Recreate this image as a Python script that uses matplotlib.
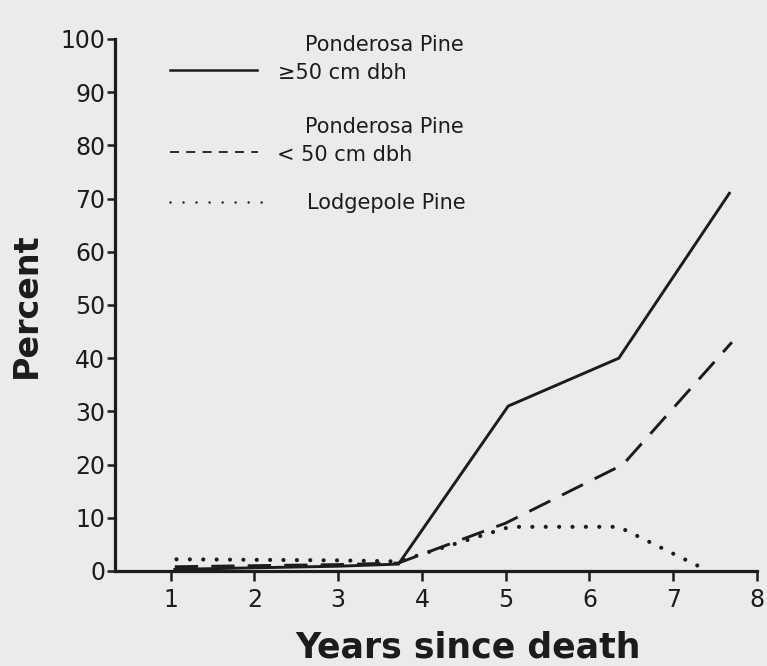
import matplotlib
matplotlib.use("Agg")
import matplotlib.pyplot as plt
from matplotlib.lines import Line2D

# ---- data ----
years_pp_large = [1.05, 2.0, 3.0, 3.72, 5.03, 6.35, 7.67]
pct_pp_large = [0.3, 0.6, 0.9, 1.3, 31.0, 40.0, 71.0]

years_pp_small = [1.05, 2.0, 3.0, 3.72, 5.0, 6.4, 7.7]
pct_pp_small = [0.8, 1.0, 1.2, 1.5, 9.0, 20.0, 43.0]

years_lodgepole = [1.07, 2.0, 3.0, 3.72, 5.05, 6.35, 7.42]
pct_lodgepole = [2.2, 2.1, 2.0, 1.8, 8.3, 8.3, 0.0]

x_ticks = [1, 2, 3, 4, 5, 6, 7, 8]
y_ticks = [0, 10, 20, 30, 40, 50, 60, 70, 80, 90, 100]

legend_title = "Ponderosa Pine"
legend_large = "\u226550 cm dbh"
legend_small = "< 50 cm dbh"
legend_lodge = "Lodgepole Pine"
x_label = "Years since death"
y_label = "Percent"

# ---- style ----
W, H = 767, 666
BG = "#ebebeb"
INK = "#1c1c1c"
plt.rcParams["font.family"] = ["DejaVu Sans"]

fig = plt.figure(figsize=(W / 100, H / 100), dpi=100, facecolor=BG)
L, R, T, B = 115, 757, 39, 571
ax = fig.add_axes([L / W, 1 - B / H, (R - L) / W, (B - T) / H])
ax.set_facecolor(BG)

lw_line = 2.1
ax.plot(years_pp_large, pct_pp_large, color=INK, lw=lw_line, solid_joinstyle="miter")
ax.plot(years_pp_small, pct_pp_small, color=INK, lw=lw_line, linestyle=(0, (8, 4.5)))
ax.plot(years_lodgepole, pct_lodgepole, color=INK, lw=3.0,
        linestyle=(0, (0.01, 3.2)), dash_capstyle="round")

ax.set_xlim(0.336, 8)
ax.set_ylim(0, 100)
ax.set_xticks(x_ticks)
ax.set_yticks(y_ticks)
ax.set_xticklabels([str(v) for v in x_ticks])
ax.set_yticklabels([str(v) for v in y_ticks])

for s in ["top", "right"]:
    ax.spines[s].set_visible(False)
for s in ["left", "bottom"]:
    ax.spines[s].set_linewidth(2.3)
    ax.spines[s].set_color(INK)
ax.tick_params(axis="y", direction="out", length=6, width=1.8, pad=1,
               labelsize=17, colors=INK)
ax.tick_params(axis="x", direction="out", length=7, width=1.8, pad=5,
               labelsize=17, colors=INK)

fig.text(468 / W, 1 - 658 / H, x_label, ha="center", va="baseline",
         fontsize=25, fontweight="bold", color=INK)
fig.text(26 / W, 1 - 305 / H, y_label, ha="center", va="center", rotation=90,
         fontsize=24, fontweight="bold", color=INK)

# ---- legend (drawn manually to match layout) ----
def fx(px):
    return px / W

def fy(py):
    return 1 - py / H

fig.add_artist(Line2D([fx(170), fx(257)], [fy(70), fy(70)], color=INK, lw=1.8))
fig.add_artist(Line2D([fx(170), fx(258)], [fy(152), fy(152)], color=INK, lw=1.3,
                      linestyle=(0, (5, 4))))
fig.add_artist(Line2D([fx(170), fx(263)], [fy(202), fy(202)], color=INK, lw=1.8,
                      linestyle=(0, (0.01, 5.2)), dash_capstyle="round"))

lfs = 15
fig.text(fx(305), fy(45), legend_title, ha="left", va="center", fontsize=lfs, color=INK)
fig.text(fx(278), fy(73), legend_large, ha="left", va="center", fontsize=lfs, color=INK)
fig.text(fx(305), fy(127), legend_title, ha="left", va="center", fontsize=lfs, color=INK)
fig.text(fx(277), fy(155), legend_small, ha="left", va="center", fontsize=lfs, color=INK)
fig.text(fx(307), fy(203), legend_lodge, ha="left", va="center", fontsize=lfs, color=INK)

fig.savefig("out.png", dpi=100, facecolor=BG)
